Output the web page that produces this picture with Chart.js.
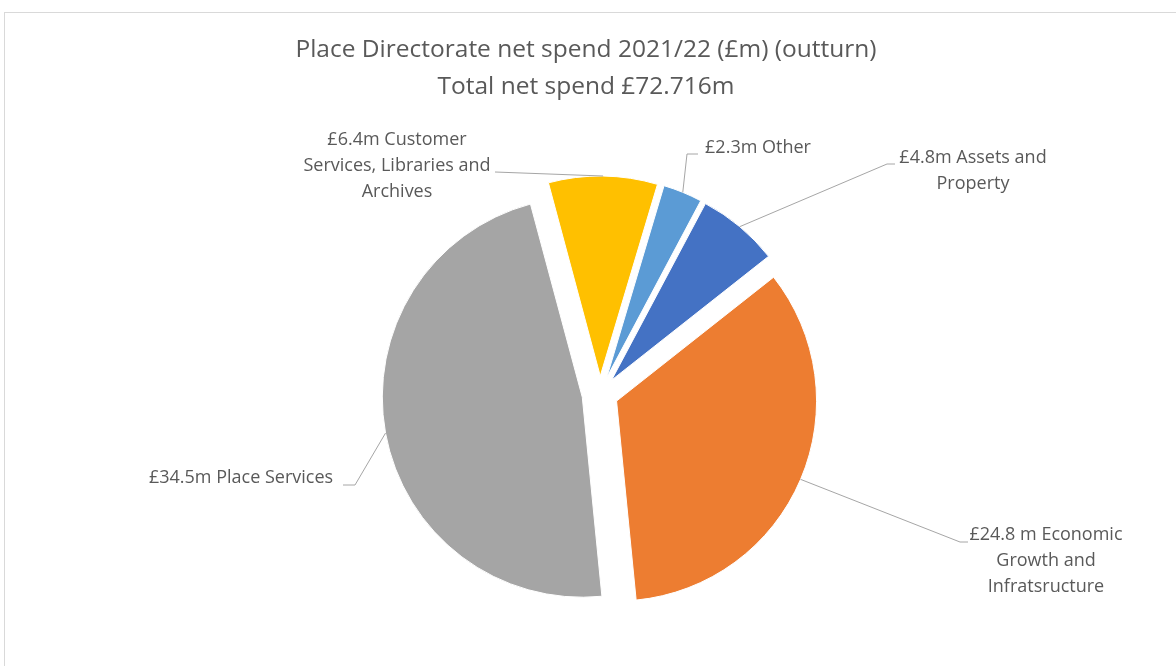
<!DOCTYPE html>
<html><head><meta charset="utf-8">
<script src="https://cdn.jsdelivr.net/npm/chart.js@4.4.1/dist/chart.umd.min.js"></script>
<style>html,body{margin:0;padding:0;background:#fff;} canvas{display:block}</style>
</head><body>
<canvas id="c" width="1176" height="666"></canvas>
<script>
// ---- data ----
const categories = ['Assets and Property', 'Economic Growth and Infratsructure', 'Place Services', 'Customer Services, Libraries and Archives', 'Other'];
const values = [4.8, 24.8, 34.5, 6.4, 2.3];
const labelLines = [
  ['£4.8m Assets and', 'Property'],
  ['£24.8 m Economic', 'Growth and', 'Infratsructure'],
  ['£34.5m Place Services'],
  ['£6.4m Customer', 'Services, Libraries and', 'Archives'],
  ['£2.3m Other']
];
const titleLines = ['Place Directorate net spend 2021/22 (£m) (outturn)', 'Total net spend £72.716m'];

// ---- style ----
const colors = ['#4472C4', '#ED7D31', '#A5A5A5', '#FFC000', '#5B9BD5'];
const explode = 18;
// label placement relative to the pie centre (text centre x, first line y, leader elbow, leader end)
const labelLayout = [
  {tx: 373, ty: -236, elbow: [287, -230], end: [295, -230]},
  {tx: 446, ty: 141, elbow: [360, 148], end: [368, 148]},
  {tx: -359, ty: 84, elbow: [-245, 91], end: [-257, 91]},
  {tx: -203, ty: -254, elbow: null, end: [-105, -222]},
  {tx: 158, ty: -246, elbow: [87, -240], end: [98, -240]}
];
const labelFont = '18px "Open Sans"';
const titleFont = '24.5px "Open Sans"';
const textColor = '#595959';

const explodePlugin = {
  id: 'explode',
  beforeDatasetDraw(chart, args) {
    const ctx = chart.ctx;
    args.meta.data.forEach(arc => {
      const mid = (arc.startAngle + arc.endAngle) / 2;
      ctx.save();
      ctx.translate(Math.cos(mid) * explode, Math.sin(mid) * explode);
      arc.draw(ctx);
      ctx.restore();
    });
    return false;
  }
};

const decorPlugin = {
  id: 'decor',
  beforeDraw(chart) {
    const ctx = chart.ctx;
    ctx.save();
    ctx.fillStyle = '#fff';
    ctx.fillRect(0, 0, chart.width, chart.height);
    ctx.strokeStyle = '#d9d9d9';
    ctx.lineWidth = 1;
    ctx.strokeRect(4.5, 12.5, 1200, 700);
    ctx.restore();
  },
  afterDraw(chart) {
    const ctx = chart.ctx;
    ctx.save();
    ctx.fillStyle = textColor;
    ctx.textAlign = 'center';
    ctx.textBaseline = 'middle';
    ctx.font = titleFont;
    titleLines.forEach((t, i) => ctx.fillText(t, 586, 50 + i * 37));

    const arcs = chart.getDatasetMeta(0).data;
    arcs.forEach((arc, i) => {
      const cx = arc.x, cy = arc.y;
      const mid = (arc.startAngle + arc.endAngle) / 2;
      const r = arc.outerRadius + explode;
      const px = cx + Math.cos(mid) * r, py = cy + Math.sin(mid) * r;
      const L = labelLayout[i];
      ctx.strokeStyle = '#a6a6a6';
      ctx.lineWidth = 1;
      ctx.beginPath();
      ctx.moveTo(px, py);
      if (L.elbow) ctx.lineTo(cx + L.elbow[0], cy + L.elbow[1]);
      ctx.lineTo(cx + L.end[0], cy + L.end[1]);
      ctx.stroke();
      ctx.font = labelFont;
      ctx.fillStyle = textColor;
      labelLines[i].forEach((t, j) => ctx.fillText(t, cx + L.tx, cy + L.ty + j * 26));
    });
    ctx.restore();
  }
};

new Chart(document.getElementById('c'), {
  type: 'pie',
  data: {
    labels: categories,
    datasets: [{
      data: values,
      backgroundColor: colors,
      borderColor: '#ffffff',
      borderWidth: 1,
      offset: 0
    }]
  },
  options: {
    responsive: false,
    animation: false,
    rotation: 28,
    radius: 200,
    layout: {padding: {left: 24, right: 0, top: 122, bottom: 0}},
    plugins: {
      legend: {display: false},
      tooltip: {enabled: false},
      title: {display: false}
    }
  },
  plugins: [explodePlugin, decorPlugin]
});
</script>
</body></html>
